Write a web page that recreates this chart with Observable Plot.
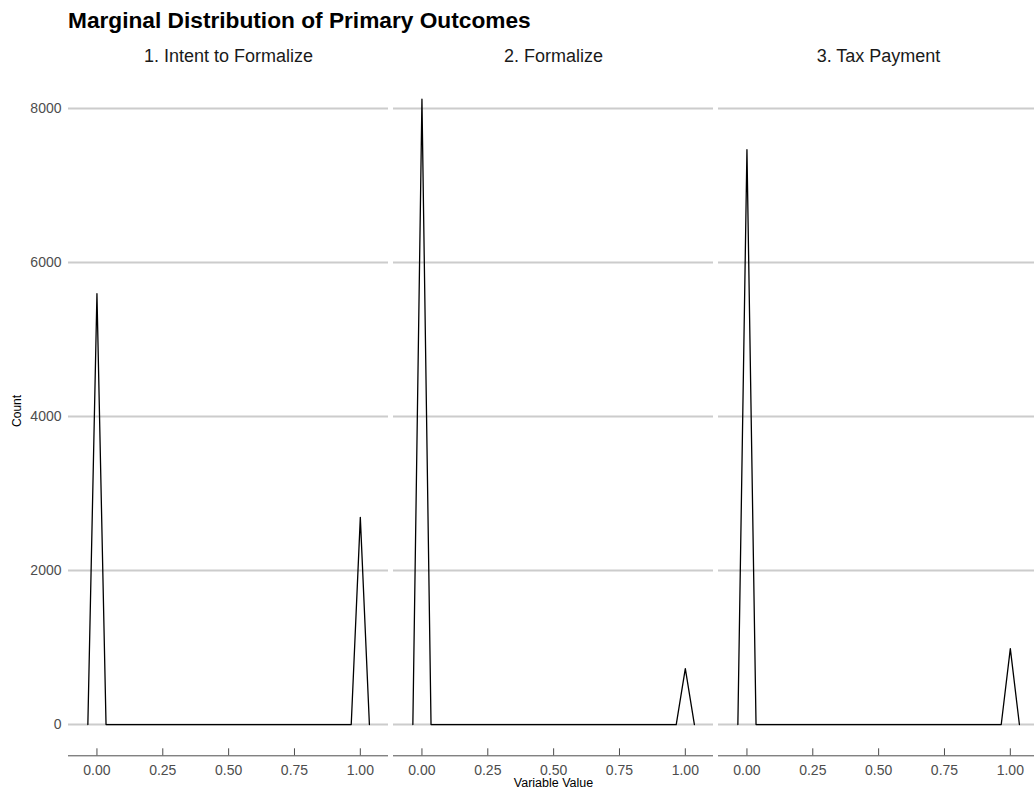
<!DOCTYPE html>
<html>
<head>
<meta charset="utf-8">
<script src="https://cdn.jsdelivr.net/npm/d3@7"></script>
<script src="https://cdn.jsdelivr.net/npm/@observablehq/plot@0.6"></script>
<style>
  html, body { margin: 0; padding: 0; background: #fff; overflow: hidden; }
  #title {
    height: 36px; box-sizing: border-box; padding: 9px 0 0 68px;
    font: bold 22.7px/22px "Liberation Sans", Arial, sans-serif; color: #000;
  }
  #chart svg { display: block; }
</style>
</head>
<body>
<div id="title">Marginal Distribution of Primary Outcomes</div>
<div id="chart"></div>
<script>
// Facet panels (one per outcome)
const outcomes = ["1. Intent to Formalize", "2. Formalize", "3. Tax Payment"];

// Frequency-polygon vertices: bin centres around 0 and 1 (bins in between are empty)
const binCenters = [-0.0345, 0, 0.0345, 0.9655, 1, 1.0345];
const intentCounts = [0, 5595, 0, 0, 2690, 0];
const formalizeCounts = [0, 8120, 0, 0, 725, 0];
const taxCounts = [0, 7465, 0, 0, 985, 0];

// Axis ticks
const xTicks = [0, 0.25, 0.5, 0.75, 1];
const yTicks = [0, 2000, 4000, 6000, 8000];

const countSeries = [intentCounts, formalizeCounts, taxCounts];
const rows = outcomes.flatMap((outcome, i) =>
  binCenters.map((value, j) => ({outcome, value, count: countSeries[i][j]}))
);

const font = '"Liberation Sans", Arial, sans-serif';
const width = 1034, height = 762;
const marginTop = 31.5, marginBottom = 42.7;
const frameHeight = height - marginTop - marginBottom;

const chart = Plot.plot({
  width, height,
  marginLeft: 68, marginRight: -5, marginTop, marginBottom,
  style: {fontFamily: font, background: "#fff"},
  fx: {domain: outcomes, paddingInner: 0.0153, paddingOuter: 0},
  x: {domain: [-0.108, 1.107]},
  y: {domain: [-406, 8526]},
  marks: [
    Plot.ruleY(yTicks, {stroke: "#cccccc", strokeWidth: 2}),
    Plot.ruleY([-406], {stroke: "#4d4d4d", strokeWidth: 1}),
    Plot.ruleX(xTicks, {stroke: "#4d4d4d", strokeWidth: 1, insetTop: frameHeight - 7}),
    Plot.line(rows, {x: "value", y: "count", fx: "outcome", stroke: "#000", strokeWidth: 1.3}),
    Plot.axisFx({anchor: "top", label: null, tickSize: 0, tickPadding: 6, fontSize: 18, fill: "#1a1a1a"}),
    Plot.axisX({ticks: xTicks, tickFormat: d3.format(".2f"), tickSize: 0, tickPadding: 9,
                fontSize: 14, fill: "#4d4d4d", label: null}),
    Plot.axisY({ticks: yTicks, tickFormat: d => String(d), tickSize: 0, tickPadding: 7,
                fontSize: 14, fill: "#4d4d4d", label: null}),
    Plot.text(["Count"], {fx: [outcomes[0]], frameAnchor: "left", rotate: -90, dx: -51, dy: 15,
                          fontSize: 12, fill: "#000"}),
    Plot.text(["Variable Value"], {fx: [outcomes[1]], frameAnchor: "bottom", dy: 31,
                                   fontSize: 12.5, fill: "#000"})
  ]
});
document.getElementById("chart").appendChild(chart);
</script>
</body>
</html>
